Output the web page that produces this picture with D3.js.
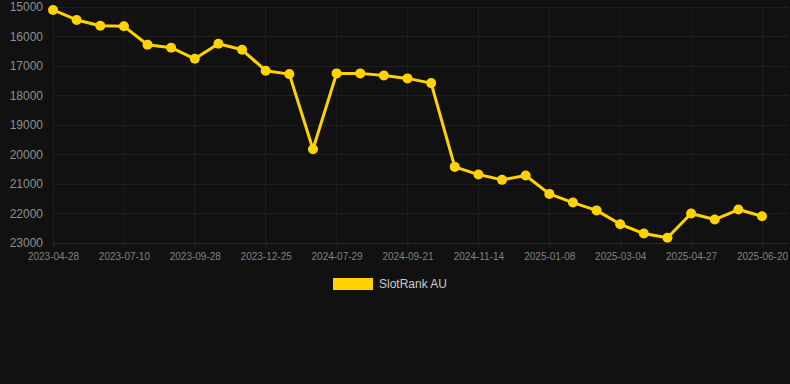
<!DOCTYPE html>
<html>
<head>
<meta charset="utf-8">
<script src="https://cdn.jsdelivr.net/npm/d3@7"></script>
<style>
  html, body { margin: 0; padding: 0; background: #111111; }
  svg { display: block; }
</style>
</head>
<body>
<svg id="chart" width="790" height="384"></svg>
<script>
// ---- data ----
const categories = [
  "2023-04-28","2023-05-22","2023-06-16","2023-07-10","2023-08-05","2023-09-02",
  "2023-09-28","2023-10-28","2023-11-26","2023-12-25","2024-03-01","2024-05-15",
  "2024-07-29","2024-08-16","2024-09-03","2024-09-21","2024-10-09","2024-10-27",
  "2024-11-14","2024-12-02","2024-12-20","2025-01-08","2025-01-26","2025-02-14",
  "2025-03-04","2025-03-22","2025-04-09","2025-04-27","2025-05-15","2025-06-02",
  "2025-06-20"
];
const seriesName = "SlotRank AU";
const rankValues = [
  15100, 15440, 15635, 15655, 16280, 16380,
  16755, 16245, 16450, 17160, 17275, 19820,
  17250, 17250, 17320, 17420, 17580, 20420,
  20680, 20860, 20710, 21335, 21630, 21895,
  22365, 22680, 22820, 22000, 22205, 21865,
  22095
];
const xTickLabels = [
  "2023-04-28","2023-07-10","2023-09-28","2023-12-25","2024-07-29","2024-09-21",
  "2024-11-14","2025-01-08","2025-03-04","2025-04-27","2025-06-20"
];
const yTicks = [15000, 16000, 17000, 18000, 19000, 20000, 21000, 22000, 23000];

// ---- layout ----
const svg = d3.select("#chart");
const plotLeft = 53, plotRight = 762, gridRight = 788;
const plotTop = 7, plotBottom = 243;
const color = "#FFD200";

const x = d3.scalePoint().domain(categories).range([plotLeft, plotRight]);
const y = d3.scaleLinear().domain([15000, 23000]).range([plotTop, plotBottom]);

// horizontal grid
svg.append("g").selectAll("line").data(yTicks).join("line")
  .attr("x1", plotLeft).attr("x2", gridRight)
  .attr("y1", d => y(d)).attr("y2", d => y(d))
  .attr("stroke", d => d === 23000 ? "#2a2a2a" : "#1f1f1f")
  .attr("stroke-width", 1)
  .attr("shape-rendering", "crispEdges");

// vertical grid
svg.append("g").selectAll("line").data(xTickLabels).join("line")
  .attr("x1", d => x(d)).attr("x2", d => x(d))
  .attr("y1", plotTop).attr("y2", plotBottom)
  .attr("stroke", "#1c1c1c")
  .attr("stroke-width", 1)
  .attr("shape-rendering", "crispEdges");

// y axis labels
const yAxis = d3.axisLeft(y).tickValues(yTicks).tickSize(0).tickPadding(0).tickFormat(d3.format("d"));
const gy = svg.append("g").attr("transform", `translate(43,0)`).call(yAxis);
gy.select(".domain").remove();
gy.selectAll("text")
  .attr("fill", "#8f8f8f")
  .style("font-family", "Liberation Sans, Arial, sans-serif")
  .style("font-size", "12px");

// x axis
const xAxis = d3.axisBottom(x).tickValues(xTickLabels).tickSize(4).tickPadding(6);
const gx = svg.append("g").attr("transform", `translate(0,${plotBottom})`).call(xAxis);
gx.select(".domain").remove();
gx.selectAll(".tick line").attr("stroke", "#2a2a2a");
gx.selectAll("text")
  .attr("fill", "#808080")
  .style("font-family", "Liberation Sans, Arial, sans-serif")
  .style("font-size", "10px");

// line
const pts = categories.map((c, i) => ({ c, v: rankValues[i] }));
const line = d3.line().x(d => x(d.c)).y(d => y(d.v));
svg.append("path").datum(pts)
  .attr("d", line)
  .attr("fill", "none")
  .attr("stroke", color)
  .attr("stroke-width", 3)
  .attr("stroke-linejoin", "round");

svg.append("g").selectAll("circle").data(pts).join("circle")
  .attr("cx", d => x(d.c)).attr("cy", d => y(d.v))
  .attr("r", 5)
  .attr("fill", color);

// legend
const lg = svg.append("g");
lg.append("rect").attr("x", 333).attr("y", 278).attr("width", 40).attr("height", 12).attr("fill", color);
lg.append("text").attr("x", 379).attr("y", 284).attr("dy", "0.35em")
  .attr("fill", "#cccccc")
  .style("font-family", "Liberation Sans, Arial, sans-serif")
  .style("font-size", "12px")
  .text(seriesName);
</script>
</body>
</html>
